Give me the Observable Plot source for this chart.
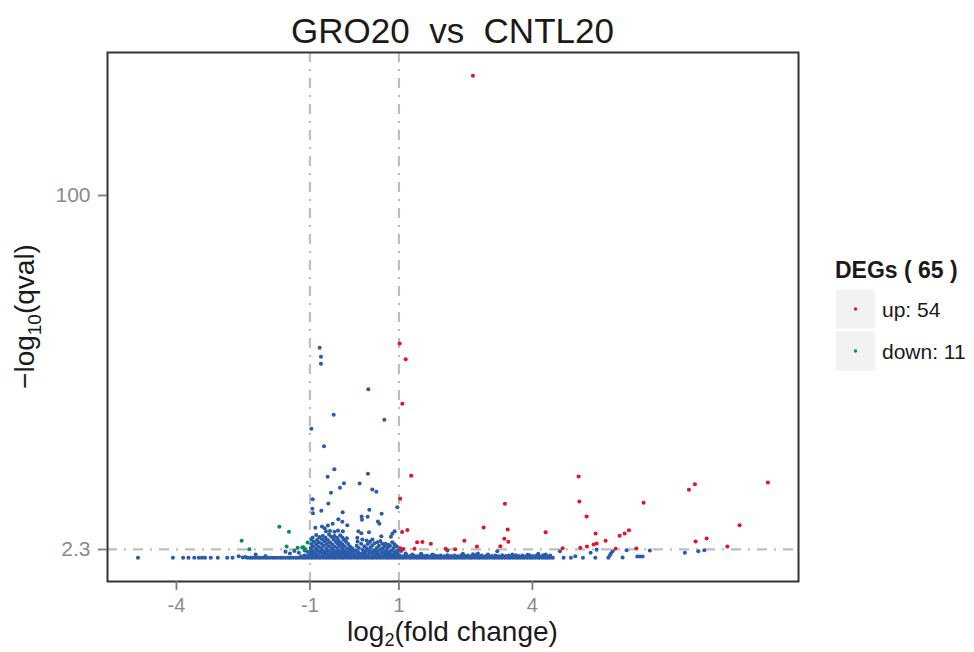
<!DOCTYPE html>
<html><head><meta charset="utf-8">
<script src="https://cdn.jsdelivr.net/npm/d3@7"></script>
<script src="https://cdn.jsdelivr.net/npm/@observablehq/plot@0.6"></script>
<style>
html,body{margin:0;padding:0;background:#fff;}
#chart{position:relative;width:974px;height:652px;}
</style></head><body><div id="chart"></div>
<script>
// ---- text / ticks ----
const title = "GRO20  vs  CNTL20";
const xTicks = [-4, -1, 1, 4];
const yTicks = [2.3, 100];
const fcCut = [-1, 1];
const qCut = 2.3;
const legendTitle = "DEGs ( 65 )";
const legendLabels = ["up: 54", "down: 11"];
const colors = {up: "#E8112D", down: "#00915A", ns: "#2A5CAA"};

// ---- data: [log2(fold change), -log10(qval)] ----
const upGenes = [
 [2.663,133.04],[1.016,59.15],[1.151,54.82],[1.076,42.51],[1.274,22.63],[1.027,16.28],
 [1.072,7.12],[1.189,7.67],[1.409,4.28],[1.528,4.36],[1.717,3.86],[1.027,2.65],[1.348,2.48],
 [2.049,2.48],[2.263,2.35],[2.470,4.69],[2.753,3.12],[2.903,8.36],[3.382,14.90],[3.443,7.81],
 [3.369,5.24],[3.458,4.42],[3.279,3.20],[4.297,7.07],[4.679,2.65],[5.038,22.44],[5.054,15.54],
 [5.218,11.40],[5.420,6.71],[5.645,4.69],[5.375,3.67],[5.443,3.95],[5.225,3.12],[5.076,2.76],
 [5.960,6.07],[6.072,6.71],[6.169,7.62],[5.870,2.48],[6.335,2.57],[6.499,15.18],[7.517,18.77],
 [7.652,20.31],[9.292,20.78],[8.656,9.00],[7.667,4.50],[7.915,5.33],[8.380,3.12],[1.10,2.4],
 [1.047,139.9],[1.299,139.9],[1.930,139.9],[3.616,139.9],[4.387,139.9],[6.274,139.9]
];
const downGenes = [
 [-2.535,4.69],[-2.362,2.35],[-1.688,8.56],[-1.472,7.18],[-1.524,3.12],[-1.276,2.76],
 [-1.171,2.84],[-1.052,4.22],[-1.148,2.93],[-1.108,2.43],[-1.13,139.9]
];
const nsScatter = [
 [-0.782,57.96],[-0.753,55.48],[-0.753,53.55],[0.312,46.54],[-0.467,39.47],[0.672,38.09],
 [-0.969,35.61],[-0.685,30.80],[-0.452,24.45],[-0.602,22.36],[0.303,23.19],[-0.236,20.59],
 [0.117,20.51],[-0.326,19.32],[0.402,18.85],[0.492,18.22],[-0.528,17.94],[-0.939,16.17],
 [-0.587,14.99],[-0.744,12.97],[-0.946,13.52],[-0.933,12.31],[-0.265,12.59],[0.335,13.25],
 [0.162,11.40],[0.169,10.49],[0.297,11.32],[0.611,12.14],[0.964,13.97],[-0.362,10.65],
 [-0.272,9.94],[-0.160,9.00],[-0.490,9.38],[-0.596,8.92],[-0.730,8.64],[-0.670,8.17],
 [-0.879,8.28],[0.528,10.02],[0.560,9.38],[0.088,7.34],[0.326,7.07],[0.155,6.79],[0.903,7.34],
 [0.852,6.62],[0.820,5.80],[0.604,5.96],[-0.64,7.3],[-0.55,7.4],[-0.45,7.2],[-0.37,7.5],
 [-0.26,7.3],[0.065,5.52],[0.178,5.05],[0.274,4.78],[0.402,5.05],[0.515,4.31],[0.627,3.86],
 [0.762,3.59],[-0.43,139.9]
];
const nsTail = [
 [-4.865,0],[-4.08,0],[-3.85,0],[-3.73,0],[-3.60,0],[-3.50,0],[-3.43,0],[-3.36,0],[-3.23,0],
 [-3.07,0],[-2.86,0],[-2.74,0],[-2.60,0.44],[-2.51,0.1],[-2.45,0.2],
 [4.618,1.82],[4.701,0],[4.865,0],[4.964,0.44],[5.135,0],[5.308,1.38],[5.413,0],[5.443,2.25],
 [5.706,0],[5.735,0.55],[5.764,1.19],[5.802,1.82],[6.027,0.08],[6.117,2.10],[6.357,0.36],
 [6.416,0.36],[6.476,0.36],[6.640,2.01],[7.427,1.38],[7.728,1.82],[7.863,2.10]
];
const nsBandLow = [
 -2.40,-2.34,-2.29,-2.23,-2.17,-2.12,-2.06,-2.00,-1.95,-1.89,-1.83,-1.78,-1.72,-1.66,-1.61,-1.55,
 -1.49,-1.44,-1.38,-1.32,-1.27,-1.21,-1.15,-1.10,-1.04,-0.98,-0.93,-0.87,-0.81,-0.76,-0.70,-0.64,
 -0.59,-0.53,-0.47,-0.42,-0.36,-0.30,-0.25,-0.19,-0.13,-0.08,-0.02,0.04,0.09,0.15,0.21,0.26,0.32,
 0.38,0.43,0.49,0.55,0.60,0.66,0.72,0.77,0.83,0.89,0.94,1.00,1.06,1.11,1.17,1.23,1.28,1.34,1.40,
 1.45,1.51,1.57,1.62,1.68,1.74,1.79,1.85,1.91,1.96,2.02,2.08,2.13,2.19,2.25,2.30,2.36,2.42,2.47,
 2.53,2.59,2.64,2.70,2.76,2.81,2.87,2.93,2.98,3.04,3.10,3.15,3.21,3.27,3.32,3.38,3.44,3.49,3.55,
 3.61,3.66,3.72,3.78,3.83,3.89,3.95,4.00,4.06,4.12,4.17,4.23,4.29,4.34,4.40,4.46
];
const nsBandMid = [
 [-1.20,0.4],[-1.12,0.6],[-1.05,0.5],[-0.97,0.7],[-0.90,0.5],[-0.82,0.6],[-0.74,0.4],[-0.67,0.7],
 [-0.59,0.5],[-0.51,0.6],[-0.44,0.4],[-0.36,0.7],[-0.28,0.5],[-0.21,0.6],[-0.13,0.4],[-0.05,0.7],
 [0.02,0.5],[0.10,0.6],[0.18,0.4],[0.25,0.7],[0.33,0.5],[0.41,0.6],[0.48,0.4],[0.56,0.7],[0.64,0.5],
 [0.71,0.6],[0.79,0.4],[0.87,0.7],[0.94,0.5],[1.02,0.6],[1.10,0.4],[1.17,0.7],[1.25,0.5],[1.33,0.6],
 [1.40,0.4],[1.48,0.7],[1.56,0.5],[1.63,0.6],[1.71,0.4],[1.79,0.7],[1.86,0.5],[1.94,0.6],[2.02,0.4],
 [2.09,0.7],[2.17,0.5],[2.25,0.6],[2.32,0.4],[2.40,0.7],[2.48,0.5],[2.55,0.6],[2.63,0.4],[2.71,0.7],
 [2.78,0.5],[2.86,0.6],[2.94,0.4],[3.01,0.7],[3.09,0.5],[3.17,0.6],[3.24,0.4],[3.32,0.7],[3.40,0.5],
 [3.47,0.6],[3.55,0.4],[3.63,0.7],[3.70,0.5],[3.78,0.6],[3.86,0.4],[3.93,0.7],[4.01,0.5],[4.09,0.6],
 [4.16,0.4],[4.24,0.7],[4.32,0.5],[4.40,0.6],
 [-2.22,0.9],[-2.00,0.5],[-1.55,1.7],[-1.45,1.2],[-1.35,1.9],[-1.25,1.4],[-1.12,2.0],[-1.05,1.6],
 [1.05,1.9],[1.15,1.2],[1.30,0.9],[1.50,1.1],[1.75,0.9],[2.088,2.0],[2.438,1.1],[2.663,1.0],
 [2.775,1.2],[3.00,0.9],[3.211,1.82],[3.55,0.9],[3.892,0.8],[4.133,1.1],[4.30,0.9]
];
const nsCore = [
 [-0.99,1.1],[-0.92,1.3],[-0.85,1.0],[-0.78,1.4],[-0.71,1.1],[-0.64,1.3],[-0.57,1.0],[-0.50,1.4],
 [-0.43,1.1],[-0.36,1.3],[-0.29,1.0],[-0.22,1.4],[-0.15,1.1],[-0.08,1.3],[-0.01,1.0],[0.06,1.4],
 [0.13,1.1],[0.20,1.3],[0.27,1.0],[0.34,1.4],[0.41,1.1],[0.48,1.3],[0.55,1.0],[0.62,1.4],[0.69,1.1],
 [0.76,1.3],[0.83,1.0],[0.90,1.4],[0.97,1.1],
 [-0.86,6.3],[-0.71,6.1],[-0.57,6.4],[-0.45,6.0],[-0.32,6.2],
 [-0.94,5.6],[-0.79,5.7],[-0.65,5.5],[-0.52,5.8],[-0.39,5.5],[-0.27,5.6],[-0.17,5.4],
 [-0.97,5.0],[-0.84,4.9],[-0.73,5.1],[-0.60,4.9],[-0.47,5.1],[-0.36,4.8],[-0.24,5.0],
 [-0.91,4.4],[-0.80,4.3],[-0.67,4.5],[-0.55,4.3],[-0.42,4.4],[-0.31,4.2],[-0.19,4.4],
 [-0.97,3.8],[-0.86,3.7],[-0.74,3.9],[-0.62,3.8],[-0.50,3.7],[-0.38,3.9],[-0.27,3.7],[-0.14,3.8],
 [-0.93,3.2],[-0.81,3.1],[-0.69,3.3],[-0.57,3.2],[-0.45,3.1],[-0.33,3.3],[-0.22,3.2],[-0.10,3.1],
 [-0.98,2.6],[-0.87,2.5],[-0.75,2.7],[-0.63,2.6],[-0.51,2.5],[-0.39,2.7],[-0.28,2.6],[-0.16,2.5],[-0.05,2.6],
 [-0.95,2.0],[-0.83,2.1],[-0.71,1.9],[-0.59,2.0],[-0.47,2.1],[-0.35,1.9],[-0.23,2.0],[-0.11,2.1],[0.00,1.9],
 [-1.00,1.6],[-0.89,1.5],[-0.77,1.7],[-0.65,1.6],[-0.53,1.5],[-0.41,1.7],[-0.29,1.6],[-0.17,1.5],[-0.06,1.7],
 [0.07,4.5],[0.35,4.4],[0.58,4.6],[0.85,4.3],
 [0.15,3.9],[0.30,3.8],[0.45,4.0],[0.70,3.9],[0.90,3.7],
 [0.05,3.3],[0.22,3.2],[0.40,3.4],[0.55,3.3],[0.68,3.1],[0.80,3.3],[0.95,3.2],
 [0.10,2.7],[0.27,2.6],[0.36,2.8],[0.50,2.7],[0.63,2.6],[0.75,2.8],[0.88,2.7],
 [0.03,2.1],[0.18,2.2],[0.32,2.0],[0.44,2.1],[0.58,2.2],[0.71,2.0],[0.84,2.1],[0.97,2.0],
 [0.08,1.6],[0.24,1.7],[0.38,1.6],[0.52,1.7],[0.66,1.6],[0.79,1.7],[0.92,1.6]
];

// ---- build tables ----
const nsGenes = [
 ...nsBandLow.map(x => [x, 0]), ...nsBandMid, ...nsCore, ...nsTail, ...nsScatter
];

const font = "'Liberation Sans', Arial, Helvetica, sans-serif";
const dots = (arr, fill) => Plot.dot(arr, {x: d => d[0], y: d => d[1], r: 2.05, fill, stroke: "none", clip: true});
const refStyle = {stroke: "#bdbdbd", strokeWidth: 2.2, strokeDasharray: "10,7,2,7"};

const svg = Plot.plot({
  width: 974, height: 652,
  marginLeft: 107, marginRight: 176, marginTop: 52, marginBottom: 71,
  style: {fontFamily: font, background: "#fff", overflow: "visible"},
  x: {domain: [-5.55, 9.98]},
  y: {domain: [-6.54, 139.47]},
  marks: [
    Plot.ruleY([qCut], refStyle),
    Plot.ruleX(fcCut, refStyle),
    dots(nsGenes, colors.ns),
    dots(downGenes, colors.down),
    dots(upGenes, colors.up),
    Plot.frame({stroke: "#333", strokeWidth: 2}),
    Plot.axisX({ticks: xTicks, tickSize: 9, tickPadding: 7, tickFormat: d => String(d),
      fontSize: 20, stroke: "#7a7a7a", fill: "#8a8a8a", strokeWidth: 1.8, label: null}),
    Plot.axisY({ticks: yTicks, tickSize: 9, tickPadding: 8, tickFormat: d => String(d),
      fontSize: 21, stroke: "#7a7a7a", fill: "#8a8a8a", strokeWidth: 1.8, label: null})
  ]
});
document.getElementById("chart").appendChild(svg);

// ---- title, axis titles, legend ----
const s = d3.select(svg);
const W = 974;
const cx = (107 + (W - 176)) / 2;
s.append("text").attr("x", cx).attr("y", 43).attr("text-anchor", "middle")
  .attr("font-size", 35).attr("fill", "#1a1a1a").attr("font-family", font).text(title);

const xl = s.append("text").attr("x", cx).attr("y", 641).attr("text-anchor", "middle")
  .attr("font-size", 28).attr("fill", "#1a1a1a").attr("font-family", font);
xl.append("tspan").text("log");
xl.append("tspan").attr("font-size", 18).attr("dy", 5).text("2");
xl.append("tspan").attr("dy", -5).text("(fold change)");

const yl = s.append("text").attr("transform", `translate(34,${(52 + 581) / 2}) rotate(-90)`)
  .attr("text-anchor", "middle").attr("font-size", 28).attr("fill", "#1a1a1a").attr("font-family", font);
yl.append("tspan").text("\u2212log");
yl.append("tspan").attr("font-size", 19).attr("dy", 7).text("10");
yl.append("tspan").attr("dy", -7).text("(qval)");

const lg = s.append("g").attr("font-family", font).attr("text-anchor", "start");
lg.append("text").attr("x", 835).attr("y", 278).attr("font-size", 23).attr("font-weight", "bold")
  .attr("text-anchor", "start").attr("fill", "#1a1a1a").text(legendTitle);
[colors.up, colors.down].forEach((c, i) => {
  const y0 = 289.5 + i * 42;
  lg.append("rect").attr("x", 836).attr("y", y0).attr("width", 39).attr("height", 39).attr("fill", "#f2f2f2");
  lg.append("circle").attr("cx", 855.5).attr("cy", y0 + 19.5).attr("r", 1.7).attr("fill", c);
  lg.append("text").attr("x", 882).attr("y", y0 + 27).attr("font-size", 21).attr("text-anchor", "start")
    .attr("fill", "#1a1a1a").text(legendLabels[i]);
});
</script></body></html>
